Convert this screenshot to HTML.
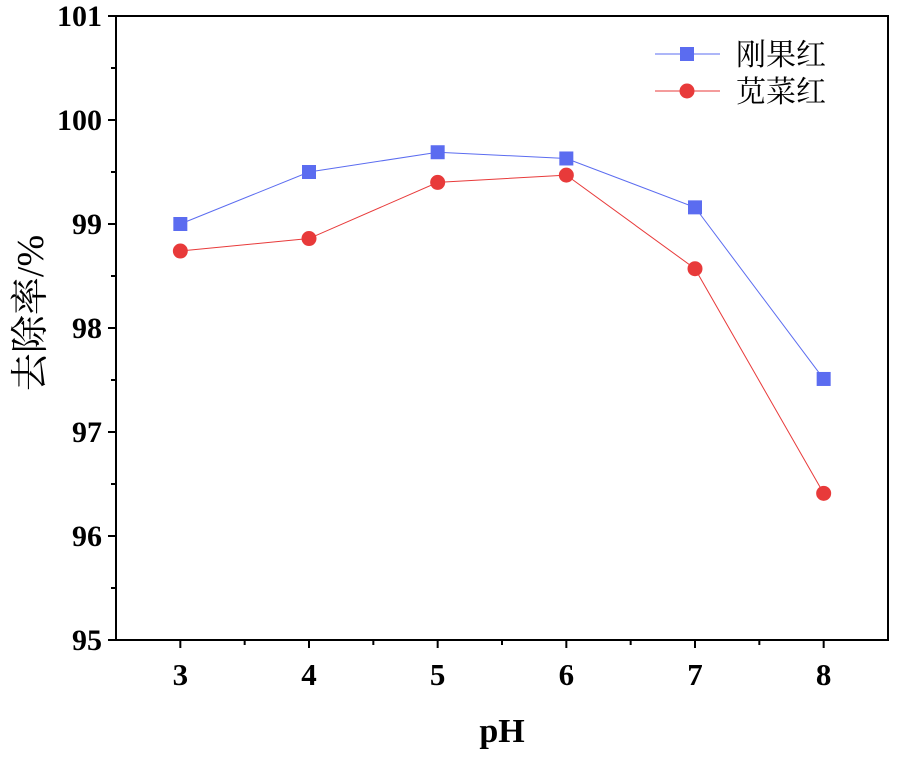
<!DOCTYPE html>
<html><head><meta charset="utf-8"><style>
html,body{margin:0;padding:0;background:#fff}
svg text{font-family:"Liberation Serif","Noto Serif CJK SC",serif}
</style></head><body>
<svg id="chart" width="900" height="756" xmlns="http://www.w3.org/2000/svg"></svg>
<script>
const categories=[3,4,5,6,7,8];
const congoRed=[99.0,99.5,99.69,99.63,99.16,97.51];
const amaranth=[98.74,98.86,99.40,99.47,98.57,96.41];
const yTicks=[95,96,97,98,99,100,101];
const xTicks=[3,4,5,6,7,8];
const L=116,R=888,T=16,B=640;
const xs=v=>L+(v-2.5)/6*(R-L);
const ys=v=>B-(v-95)/6*(B-T);
const svg=document.getElementById('chart');
const NS='http://www.w3.org/2000/svg';
function mk(tag,attrs,parent){const e=document.createElementNS(NS,tag);for(const k in attrs)e.setAttribute(k,attrs[k]);(parent||svg).appendChild(e);return e;}
const frame=mk('rect',{x:L,y:T,width:R-L,height:B-T,fill:'none',stroke:'#000','stroke-width':2});


const yg=mk('g',{});


yTicks.forEach((v,i)=>{const y=ys(v);
mk('line',{x1:L-8,x2:L,y1:y,y2:y,stroke:'#000','stroke-width':2},yg);
if(i<yTicks.length-1){const ym=ys(v+0.5);mk('line',{x1:L-5,x2:L,y1:ym,y2:ym,stroke:'#000','stroke-width':2},yg);}
const t=mk('text',{x:L-14,y:y+10,'text-anchor':'end','font-size':30,'font-weight':'bold'},yg);t.textContent=v;

});
const xg=mk('g',{});


xTicks.forEach(v=>{const x=xs(v);
mk('line',{x1:x,x2:x,y1:B,y2:B+8,stroke:'#000','stroke-width':2},xg);
const xm=xs(v+0.5);if(v<8)mk('line',{x1:xm,x2:xm,y1:B,y2:B+5,stroke:'#000','stroke-width':2},xg);
const t=mk('text',{x:x,y:B+45,'text-anchor':'middle','font-size':31,'font-weight':'bold'},xg);t.textContent=v;

});
const xt=mk('text',{x:502,y:742,'text-anchor':'middle','font-size':34,'font-weight':'bold'});xt.textContent='pH';


const yt=mk('text',{x:0,y:0,'text-anchor':'middle','font-size':38,transform:'translate(43,313) rotate(-90)'});yt.textContent='去除率/%';


function series(vals,color,shape,name){
const g=mk('g',{});


mk('polyline',{points:vals.map((v,i)=>xs(categories[i])+','+ys(v)).join(' '),fill:'none',stroke:color,'stroke-width':1},g);
vals.forEach((v,i)=>{const x=xs(categories[i]),y=ys(v);
const m=shape==='sq'?mk('rect',{x:x-7,y:y-7,width:14,height:14,fill:color},g):mk('circle',{cx:x,cy:y,r:7.5,fill:color},g);

});}
series(congoRed,'#5b6cf0','sq','series-congo-red');
series(amaranth,'#e83a3a','ci','series-amaranth');
const lg=mk('g',{});


mk('line',{x1:655,x2:720,y1:54,y2:54,stroke:'#5b6cf0','stroke-width':1},lg);
mk('rect',{x:680,y:47,width:14,height:14,fill:'#5b6cf0'},lg);
mk('line',{x1:655,x2:720,y1:91,y2:91,stroke:'#e83a3a','stroke-width':1},lg);
mk('circle',{cx:687,cy:91,r:7.5,fill:'#e83a3a'},lg);
const l1=mk('text',{x:736,y:65,'font-size':30},lg);l1.textContent='刚果红';


const l2=mk('text',{x:736,y:102,'font-size':30},lg);l2.textContent='苋菜红';


</script>
</body></html>
